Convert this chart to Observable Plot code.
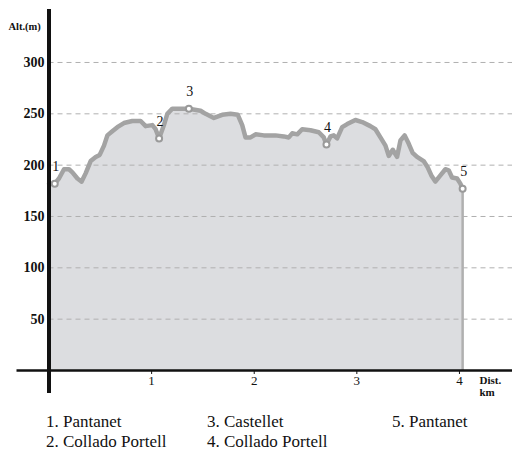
<!DOCTYPE html>
<html>
<head>
<meta charset="utf-8">
<script src="https://cdn.jsdelivr.net/npm/d3@7"></script>
<script src="https://cdn.jsdelivr.net/npm/@observablehq/plot@0.6"></script>
<style>
  html, body { margin: 0; padding: 0; background: #fff; }
  #chart { width: 512px; height: 400px; }
  #legend { position: relative; width: 512px; height: 53px; font-family: "Liberation Serif", serif; font-size: 17px; color: #111; }
  #legend div { position: absolute; white-space: nowrap; line-height: 20px; }
</style>
</head>
<body>
<div id="chart"></div>
<div id="legend"></div>
<script>
// Profile readings: distance (km) and altitude (m)
const dist = [0, 0.056, 0.097, 0.146, 0.195, 0.228, 0.277, 0.318, 0.357, 0.406, 0.455, 0.494, 0.536, 0.569, 0.617, 0.666, 0.730, 0.812, 0.893, 0.942, 1.007, 1.039, 1.073, 1.120, 1.153, 1.202, 1.282, 1.363, 1.477, 1.526, 1.607, 1.688, 1.769, 1.840, 1.883, 1.915, 1.964, 2.013, 2.093, 2.207, 2.288, 2.337, 2.370, 2.419, 2.467, 2.548, 2.629, 2.678, 2.704, 2.743, 2.775, 2.808, 2.857, 2.906, 2.986, 3.052, 3.132, 3.181, 3.230, 3.279, 3.311, 3.350, 3.392, 3.425, 3.466, 3.505, 3.544, 3.587, 3.651, 3.690, 3.726, 3.765, 3.814, 3.863, 3.895, 3.928, 3.977, 4.009, 4.031];
const alt  = [182, 182, 187, 196, 196, 193, 187, 184, 192, 204, 208, 210, 219, 229, 233, 237, 241, 243, 243, 238, 239, 235, 226, 239, 250, 255, 255, 255, 253, 250, 246, 249, 250, 249, 239, 227, 227, 230, 229, 229, 228, 227, 231, 230, 235, 234, 232, 227, 220, 228, 229, 226, 237, 240, 244, 242, 238, 235, 227, 219, 209, 215, 208, 224, 229, 221, 212, 208, 204, 198, 190, 184, 190, 196, 195, 188, 187, 182, 177];

// Waypoints
const wpLabel = ["1", "2", "3", "4", "5"];
const wpDist  = [0.056, 1.073, 1.363, 2.704, 4.031];
const wpAlt   = [182, 226, 255, 220, 177];
const wpNames = ["1. Pantanet", "2. Collado Portell", "3. Castellet", "4. Collado Portell", "5. Pantanet"];

// Axis ticks
const yTicks = [50, 100, 150, 200, 250, 300];
const xTicks = [1, 2, 3, 4];

const profile = dist.map((d, i) => ({d, alt: alt[i]}));
const waypoints = wpLabel.map((l, i) => ({label: l, d: wpDist[i], alt: wpAlt[i]}));
const last = profile[profile.length - 1];

const font = "Liberation Serif, serif";

const chart = Plot.plot({
  width: 512,
  height: 400,
  marginLeft: 48.5,
  marginRight: 0,
  marginTop: 9,
  marginBottom: 30,
  style: {fontFamily: font, background: "#fff"},
  x: {domain: [0, 4.517]},
  y: {domain: [0, 351.6]},
  marks: [
    Plot.areaY(profile, {x: "d", y: "alt", fill: "#dcdde0"}),
    Plot.ruleY(yTicks, {stroke: "#b0b0b0", strokeWidth: 1, strokeDasharray: "5,4"}),
    Plot.ruleX([last], {x: "d", y1: 0, y2: "alt", stroke: "#b0b0b0", strokeWidth: 2.5}),
    Plot.lineY(profile, {x: "d", y: "alt", stroke: "#a3a3a3", strokeWidth: 4.5, strokeLinejoin: "round", strokeLinecap: "round"}),
    Plot.dot(waypoints, {x: "d", y: "alt", r: 3, fill: "#fff", stroke: "#9a9a9a", strokeWidth: 2}),
    Plot.text(waypoints, {x: "d", y: "alt", text: "label", dy: -17, dx: 1, fontSize: 14, fill: "#111"}),
    Plot.axisY(yTicks, {tickSize: 0, tickPadding: 4.5, fontSize: 14, fontWeight: "bold", fill: "#111", label: null}),
    Plot.axisX(xTicks, {tickSize: 4, tickPadding: 1, fontSize: 13, fill: "#111", stroke: "#111", label: null}),
    Plot.ruleY([0], {stroke: "#111", strokeWidth: 2.5, insetLeft: -32}),
    Plot.ruleX([0], {stroke: "#111", strokeWidth: 4, insetBottom: -23}),
    Plot.text(["Alt.(m)"], {frameAnchor: "top-left", dx: -40.5, dy: 13, text: d => d, fontSize: 10.5, fontWeight: "bold", textAnchor: "start", fill: "#111"}),
    Plot.text(["Dist."], {frameAnchor: "bottom-right", dx: -33, dy: 13, text: d => d, fontSize: 11, fontWeight: "bold", textAnchor: "start", fill: "#111"}),
    Plot.text(["km"], {frameAnchor: "bottom-right", dx: -33, dy: 25, text: d => d, fontSize: 11, fontWeight: "bold", textAnchor: "start", fill: "#111"})
  ]
});
document.getElementById("chart").appendChild(chart);

const legend = document.getElementById("legend");
const cols = [46, 207, 392];
const order = [[0, 0, 0], [1, 0, 1], [2, 1, 0], [3, 1, 1], [4, 2, 0]];
order.forEach(([i, c, r]) => {
  const el = document.createElement("div");
  el.textContent = wpNames[i];
  el.style.left = cols[c] + "px";
  el.style.top = (12 + r * 20) + "px";
  legend.appendChild(el);
});
</script>
</body>
</html>
